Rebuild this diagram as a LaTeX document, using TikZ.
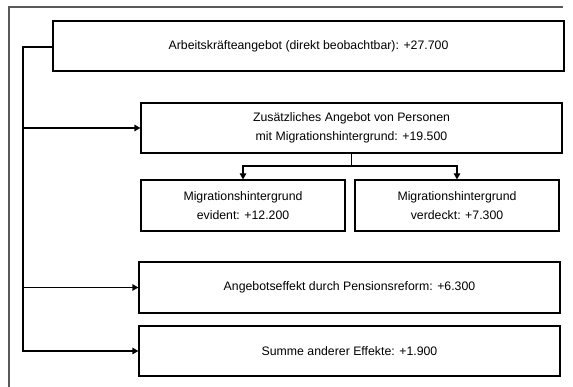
\documentclass[tikz,border=0pt]{standalone}
\usepackage{fontspec}
\setmainfont{Liberation Sans}
\usetikzlibrary{arrows.meta}
\tikzset{
  box/.style={draw=black, line width=1.2pt, inner sep=0pt, align=center,
    font=\fontsize{12.3}{18.5}\selectfont},
  conn/.style={draw=black, line width=1.2pt},
  arr/.style={conn, -{Triangle[length=6pt,width=6.5pt]}},
  frame/.style={draw=black!65, line width=1.2pt}
}
\begin{document}
\begin{tikzpicture}[x=1pt,y=-1pt]
\useasboundingbox (0,0) rectangle (573,387);
\draw[frame] (9,387) -- (9,7) -- (563,7);
\node[box, minimum width=511pt, minimum height=50pt] (b1) at (308.5,46) {Arbeitskräfteangebot (direkt beobachtbar): +27.700};
\node[box, minimum width=421pt, minimum height=50pt] (b2) at (351.5,128) {Zusätzliches Angebot von Personen\\mit Migrationshintergrund: +19.500};
\node[box, minimum width=204pt, minimum height=51pt] (b3) at (243,205.5) {Migrationshintergrund\\evident: +12.200};
\node[box, minimum width=204pt, minimum height=51pt] (b4) at (457,205.5) {Migrationshintergrund\\verdeckt: +7.300};
\node[box, minimum width=421pt, minimum height=51pt] (b5) at (349.5,287.5) {Angebotseffekt durch Pensionsreform: +6.300};
\node[box, minimum width=421pt, minimum height=50pt] (b6) at (349.5,351) {Summe anderer Effekte: +1.900};
\coordinate (t) at (23,47);
\coordinate (s) at (351.5,166);
\draw[arr] (b1.west |- t) -- (t) -- (t |- b6.west) -- (b6.west);
\draw[arr] (t |- b2.west) -- (b2.west);
\draw[arr] (t |- b5.west) -- (b5.west);
\draw[conn] (b2.south) -- (s);
\draw[arr] (s) -| (b3.north);
\draw[arr] (s) -| (b4.north);
\end{tikzpicture}
\end{document}
